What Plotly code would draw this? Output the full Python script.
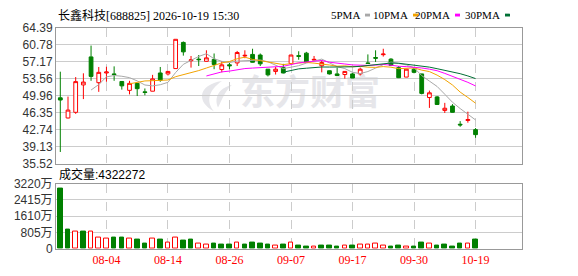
import plotly.graph_objects as go

# ---------------- data ----------------
dates = ["07-27", "07-28", "07-29", "07-30", "07-31", "08-03",
         "08-04", "08-05", "08-06", "08-07", "08-10", "08-11", "08-12", "08-13",
         "08-14", "08-17", "08-18", "08-19", "08-20", "08-21", "08-24", "08-25",
         "08-26", "08-27", "08-28", "08-31", "09-01", "09-02", "09-03", "09-04",
         "09-07", "09-08", "09-09", "09-10", "09-11", "09-14", "09-15", "09-16",
         "09-17", "09-18", "09-21", "09-22", "09-23", "09-24", "09-28", "09-29",
         "09-30", "10-08", "10-09", "10-12", "10-13", "10-14", "10-15", "10-16",
         "10-19"]

opens = [49.52, 45.25, 46.45, 52.25, 58.18, 52.72, 54.78, 54.58, 52.98, 51.10,
         52.58, 50.78, 50.92, 54.78, 54.58, 55.71, 61.25, 57.38, 57.71, 57.25,
         57.65, 55.51, 56.51, 56.91, 58.38, 58.71, 58.58, 55.58, 55.11, 55.91,
         56.78, 58.45, 58.98, 57.51, 56.31, 55.25, 54.58, 54.45, 54.58, 54.58,
         56.91, 58.05, 58.65, 57.71, 55.91, 53.91, 55.58, 54.58, 49.58, 49.71,
         46.85, 47.78, 43.92, 44.72, 42.78]
highs = [55.05, 49.78, 53.92, 54.71, 60.58, 56.05, 56.10, 56.18, 53.05, 53.12,
         52.62, 51.50, 54.38, 56.05, 55.20, 61.91, 61.45, 58.38, 58.58, 59.58,
         58.91, 57.25, 56.91, 59.45, 59.58, 59.91, 58.91, 55.62, 56.05, 56.71,
         58.62, 59.38, 59.25, 58.38, 57.51, 55.30, 55.91, 55.15, 54.78, 55.91,
         58.71, 59.58, 59.91, 57.91, 56.25, 55.60, 55.91, 54.60, 51.05, 49.91,
         48.45, 48.18, 44.58, 46.58, 43.11]
lows = [38.05, 45.15, 46.12, 49.25, 53.12, 50.78, 52.92, 53.12, 51.25, 50.25,
        49.90, 50.05, 50.90, 52.92, 54.25, 55.71, 58.45, 55.91, 56.25, 57.20,
        55.58, 54.91, 55.58, 56.25, 57.91, 57.00, 56.25, 54.05, 54.45, 54.70,
        56.58, 57.58, 57.10, 57.38, 54.91, 54.45, 54.20, 53.58, 53.70, 54.25,
        56.71, 57.11, 58.25, 56.30, 53.70, 53.90, 54.71, 50.25, 47.38, 48.10,
        46.31, 46.40, 43.38, 44.25, 41.05]
closes = [49.05, 46.92, 52.95, 52.85, 54.05, 54.91, 54.98, 54.45, 52.05, 52.58,
          51.45, 50.65, 53.52, 53.25, 55.11, 61.91, 59.25, 57.55, 57.60, 57.98,
          56.58, 56.50, 56.31, 59.11, 58.51, 57.05, 56.71, 54.38, 55.58, 54.78,
          58.58, 58.31, 57.11, 57.65, 56.98, 54.58, 54.25, 55.11, 53.71, 55.58,
          56.78, 57.91, 58.78, 56.38, 53.78, 55.58, 54.91, 50.45, 50.58, 48.11,
          47.31, 46.45, 43.78, 44.91, 41.72]
# volume in 万股
volumes = [2993, 930, 867, 836, 867, 539, 508, 555, 555, 508,
           461, 274, 508, 461, 305, 555, 414, 445, 274, 227,
           274, 227, 195, 305, 195, 320, 242, 227, 164, 195,
           305, 180, 133, 117, 180, 180, 133, 164, 180, 211,
           211, 258, 180, 133, 180, 117, 86, 320, 258, 180,
           211, 133, 274, 258, 432.2272]

label_dates = ["08-04", "08-14", "08-26", "09-07", "09-17", "09-30", "10-19"]
price_ticks = [35.52, 39.13, 42.74, 46.35, 49.96, 53.56, 57.17, 60.78, 64.39]
vol_ticks = [0, 805, 1610, 2415, 3220]
ma_periods = [5, 10, 20, 30]
ma_names = ["5PMA", "10PMA", "20PMA", "30PMA"]
ma_colors = ["#a8a8a8", "#f2a300", "#ff00ff", "#007035"]

title_text = "长鑫科技[688825] 2026-10-19 15:30"
vol_title = "成交量:4322272"
watermark = "东方财富"

# ---------------- helpers ----------------
W, H = 578, 276
def px(x):
    return x / W
def py(y):
    return 1 - y / H

def moving_avg(vals, n):
    out = []
    for i in range(len(vals)):
        if i < n - 1:
            out.append(None)
        else:
            out.append(sum(vals[i - n + 1:i + 1]) / n)
    return out

RED = "#ff0000"
GREEN = "#008000"

fig = go.Figure()

fig.add_trace(go.Candlestick(
    x=dates, open=opens, high=highs, low=lows, close=closes,
    increasing=dict(line=dict(color=RED, width=1), fillcolor="#ffffff"),
    decreasing=dict(line=dict(color=GREEN, width=1), fillcolor=GREEN),
    whiskerwidth=0, xaxis="x", yaxis="y", showlegend=False,
    hoverinfo="skip"))

for n, name, col in zip(ma_periods, ma_names, ma_colors):
    fig.add_trace(go.Scatter(
        x=dates, y=moving_avg(closes, n), mode="lines", name=name,
        line=dict(color=col, width=1), xaxis="x", yaxis="y",
        showlegend=False, hoverinfo="skip"))

# volume colours: up vs previous close
vol_up = []
for i in range(len(closes)):
    if i == 0:
        vol_up.append(closes[0] >= opens[0])
    else:
        vol_up.append(closes[i] >= closes[i - 1])
fig.add_trace(go.Bar(
    x=dates, y=volumes, width=0.6,
    marker=dict(color=["#ffffff" if u else GREEN for u in vol_up],
                line=dict(color=[RED if u else GREEN for u in vol_up], width=1)),
    xaxis="x2", yaxis="y2", showlegend=False, hoverinfo="skip"))

xdom = [px(56), px(522.3)]
xrange_ = [-0.56, 60.08]
common_x = dict(domain=xdom, type="category", range=xrange_,
                tickmode="array", tickvals=label_dates, ticktext=label_dates,
                showgrid=True, gridcolor="#cccccc", griddash="dash", gridwidth=1,
                showline=True, mirror=True, linecolor="#999999", linewidth=1,
                zeroline=False, ticks="", fixedrange=True)

fig.update_layout(
    width=W, height=H, margin=dict(l=0, r=0, t=0, b=0),
    paper_bgcolor="#ffffff", plot_bgcolor="#ffffff",
    showlegend=False, bargap=0,
    xaxis=dict(**common_x, anchor="y", showticklabels=False,
               rangeslider=dict(visible=False)),
    xaxis2=dict(**common_x, anchor="y2", showticklabels=True,
                tickfont=dict(family="Liberation Serif, Noto Sans CJK SC", size=12, color=RED)),
    yaxis=dict(domain=[py(165.3), py(21.7)], range=[price_ticks[0], price_ticks[-1]],
               tickmode="array", tickvals=price_ticks,
               ticktext=["%.2f" % v for v in price_ticks],
               showgrid=True, gridcolor="#cccccc", gridwidth=1,
               showline=True, mirror=True, linecolor="#999999", linewidth=1,
               zeroline=False, ticks="", anchor="x",
               tickfont=dict(family="Liberation Sans, Noto Sans CJK SC", size=12, color="#333333")),
    yaxis2=dict(domain=[py(254.7), py(186)], range=[0, vol_ticks[-1]],
                tickmode="array", tickvals=vol_ticks,
                ticktext=[str(v) + ("万" if v else "") for v in vol_ticks],
                showgrid=True, gridcolor="#cccccc", gridwidth=1,
                showline=True, mirror=True, linecolor="#999999", linewidth=1,
                zeroline=False, ticks="", anchor="x2",
                tickfont=dict(family="Liberation Sans, Noto Sans CJK SC", size=12, color="#333333")),
)

annotations = [
    dict(text=title_text, x=px(56), y=py(9), xref="paper", yref="paper",
         xanchor="left", yanchor="middle", showarrow=False,
         font=dict(family="Liberation Serif, Noto Sans CJK SC", size=12, color="#000000")),
    dict(text=vol_title, x=px(57), y=py(176.5), xref="paper", yref="paper",
         xanchor="left", yanchor="middle", showarrow=False,
         font=dict(family="Liberation Sans, Noto Sans CJK SC", size=12, color="#000000")),
]
shapes = []
box_left = [365, 413, 455, 505]
for name, col, bx in zip(ma_names, ma_colors, box_left):
    annotations.append(dict(text=name, x=px(bx - 3), y=py(8.5), xref="paper", yref="paper",
                            xanchor="right", yanchor="middle", showarrow=False,
                            font=dict(family="Liberation Serif", size=11, color="#000000")))
    shapes.append(dict(type="rect", xref="paper", yref="paper",
                       x0=px(bx), x1=px(bx + 5), y0=py(10), y1=py(7),
                       fillcolor=col, line=dict(width=0)))

# watermark text
shapes.append(dict(type="rect", xref="paper", yref="paper", layer="below",
                   x0=px(238), x1=px(382), y0=py(113), y1=py(74),
                   line=dict(width=0), fillcolor="rgba(0,0,0,0)",
                   label=dict(text=watermark, textposition="middle center",
                              font=dict(family="Noto Sans CJK SC", size=35,
                                        color="#e6e6ea", weight="bold"))))
# watermark logo (stylised flame)
def pth(points_cmds):
    return points_cmds
logo = ("M {a},{b} C {c},{d} {e},{f} {g},{h} C {i},{j} {k},{l} {m},{n} Z").format(
    a=px(214), b=py(110), c=px(196), d=py(100), e=px(198), f=py(82), g=px(222), h=py(78),
    i=px(208), j=py(88), k=px(206), l=py(100), m=px(214), n=py(110))
logo2 = ("M {a},{b} C {c},{d} {e},{f} {g},{h} C {i},{j} {k},{l} {m},{n} Z").format(
    a=px(218), b=py(106), c=px(214), d=py(96), e=px(218), f=py(86), g=px(232), h=py(82),
    i=px(224), j=py(90), k=px(222), l=py(98), m=px(218), n=py(106))
for p_ in (logo, logo2):
    shapes.append(dict(type="path", xref="paper", yref="paper", layer="below",
                       path=p_, fillcolor="#e6e6ea", line=dict(width=0)))

fig.update_layout(annotations=annotations, shapes=shapes)

fig.write_html("out.html")
